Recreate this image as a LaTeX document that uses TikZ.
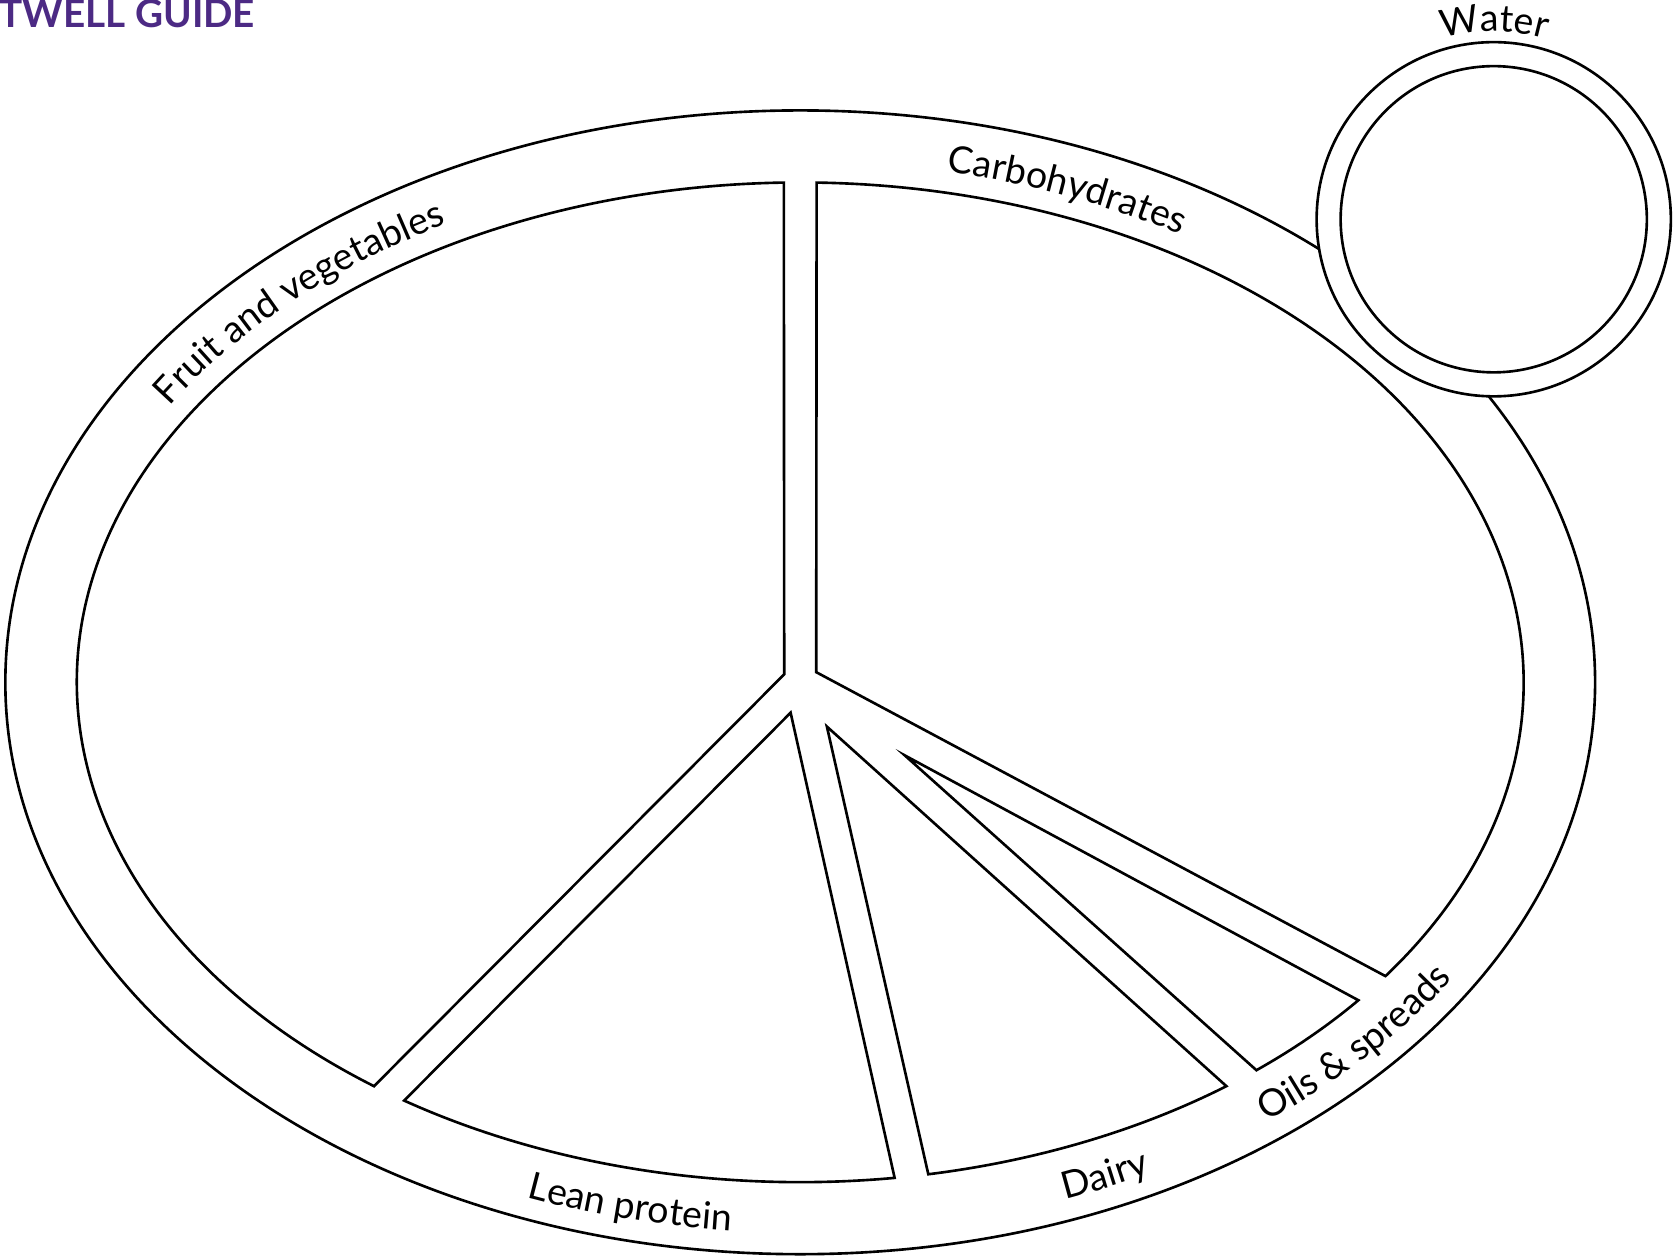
\documentclass[tikz,border=0pt]{standalone}
\usepackage{fontspec}
\setmainfont{Lato}
\usetikzlibrary{calc,decorations.text}
\definecolor{guidepurple}{RGB}{76,42,132}

\begin{document}
\begin{tikzpicture}[
    x=0.01cm, y=0.01cm,
    rim/.style={draw, line width=0.7pt},
    piece/.style={draw, line width=0.7pt},
    ringlabel/.style={decorate, decoration={text along path, text align=center,
        text={|\fontsize{10}{12}\selectfont|#1}}}
]
\useasboundingbox (0,0) rectangle (1568,-1177);

\coordinate (plate) at (750,-639.5);
\coordinate (glass) at (1400,-205.5);

% title, cut by the page edge
\node[anchor=base west, inner sep=0pt, text=guidepurple, font=\bfseries\fontsize{10.3}{12}\selectfont] (title) at (-1,-25.5) {TWELL GUIDE};

% plate rim
\draw[rim] (plate) ellipse [x radius=745, y radius=536];

% water glass, on top of the rim
\draw[rim, fill=white] (glass) circle [radius=166];
\draw[rim] (glass) circle [radius=143.5];

% food groups
\draw[piece] ($(plate)+(91.3:678 and 468.5)$) -- (735,-632) -- ($(plate)+(233.9:678 and 468.5)$)
    arc[start angle=233.9, end angle=91.3, x radius=678, y radius=468.5] -- cycle;
\draw[piece] ($(plate)+(88.7:678 and 468.5)$) -- (765,-630) -- ($(plate)+(-36:678 and 468.5)$)
    arc[start angle=-36, end angle=88.7, x radius=678, y radius=468.5] -- cycle;
\draw[piece] (741,-668) -- ($(plate)+(-123.2:678 and 468.5)$)
    arc[start angle=-123.2, end angle=-82.5, x radius=678, y radius=468.5] -- cycle;
\draw[piece] (775,-681) -- ($(plate)+(-79.8:678 and 468.5)$)
    arc[start angle=-79.8, end angle=-53.9, x radius=678, y radius=468.5] -- cycle;
\draw[piece] (848,-708) -- ($(plate)+(-50.9:678 and 468.5)$)
    arc[start angle=-50.9, end angle=-39.5, x radius=678, y radius=468.5] -- cycle;

% labels round the rim
\path[ringlabel={Fruit and vegetables}] ($(plate)+(165:697 and 488)$)
    arc[start angle=165, end angle=105, x radius=697, y radius=488];
\path[ringlabel={Carbohydrates}] ($(plate)+(94:697 and 488)$)
    arc[start angle=94, end angle=42, x radius=697, y radius=488];
\path[ringlabel={Lean protein}] ($(plate)+(-129:725 and 516)$)
    arc[start angle=-129, end angle=-78, x radius=725, y radius=516];
\path[ringlabel={Dairy}] ($(plate)+(-84:725 and 516)$)
    arc[start angle=-84, end angle=-48, x radius=725, y radius=516];
\path[ringlabel={Oils {\&} spreads}] ($(plate)+(-61:725 and 516)$)
    arc[start angle=-61, end angle=-23, x radius=725, y radius=516];
\path[ringlabel={Water}] ($(glass)+(108:176)$)
    arc[start angle=108, end angle=72, radius=176];

\end{tikzpicture}
\end{document}
